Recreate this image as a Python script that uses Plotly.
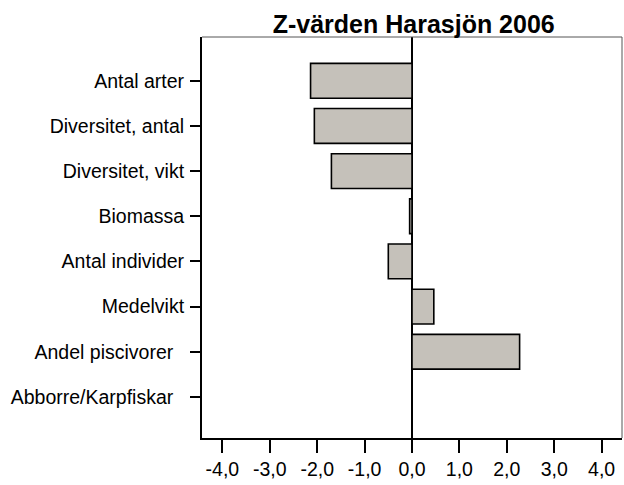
import plotly.graph_objects as go

categories = ["Antal arter", "Diversitet, antal", "Diversitet, vikt", "Biomassa",
              "Antal individer", "Medelvikt", "Andel piscivorer\u00a0\u00a0", "Abborre/Karpfiskar\u00a0\u00a0"]
z_values = [-2.14, -2.06, -1.70, -0.05, -0.50, 0.46, 2.27, None]
x_tick_vals = [-4, -3, -2, -1, 0, 1, 2, 3, 4]
x_tick_text = ["-4,0", "-3,0", "-2,0", "-1,0", "0,0", "1,0", "2,0", "3,0", "4,0"]

fig = go.Figure(go.Bar(
    x=z_values, y=categories, orientation="h", width=0.77,
    marker=dict(color="#C5C1BA", line=dict(color="black", width=1.6)),
))

font = "Liberation Sans, Arial, sans-serif"
fig.update_layout(
    width=624, height=485,
    margin=dict(l=202, r=2, t=37, b=47),
    plot_bgcolor="white", paper_bgcolor="white",
    showlegend=False,
    font=dict(family=font, size=19.5, color="black"),
    title=dict(text="<b>Z-värden Harasjön 2006</b>", x=0.663, xanchor="center",
               y=0.932, yanchor="bottom", font=dict(family=font, size=25, color="black")),
    xaxis=dict(range=[-4.43, 4.43], tickvals=x_tick_vals, ticktext=x_tick_text,
               showgrid=False, zeroline=True, zerolinecolor="black", zerolinewidth=2,
               showline=True, linecolor="black", linewidth=2,
               ticks="outside", ticklen=13, tickwidth=2, tickcolor="black"),
    yaxis=dict(range=[7.91, -0.97], showgrid=False, zeroline=False,
               showline=True, linecolor="black", linewidth=2,
               ticks="outside", ticklen=10, tickwidth=2, tickcolor="black",
               ticklabelstandoff=2),
    shapes=[
        dict(type="line", xref="paper", yref="paper", x0=0, x1=1, y0=1, y1=1,
             line=dict(color="#555555", width=1)),
        dict(type="line", xref="paper", yref="paper", x0=1, x1=1, y0=0, y1=1,
             line=dict(color="#555555", width=1)),
    ],
)
fig.write_html("out.html", config={"displayModeBar": False},
               post_script="document.body.style.margin='0';document.body.style.padding='0';")
